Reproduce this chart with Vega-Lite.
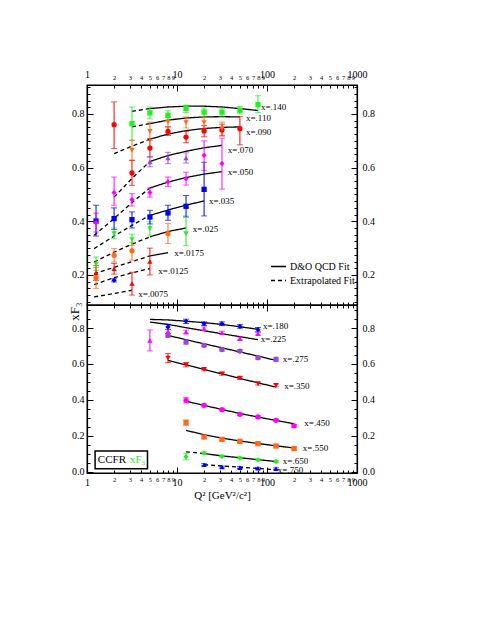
{
  "$schema": "https://vega.github.io/schema/vega-lite/v6.json",
  "background": "white",
  "padding": {"left": 67, "top": 68, "right": 5, "bottom": 5},
  "spacing": 0,
  "bounds": "flush",
  "config": {
    "font": "Liberation Serif",
    "view": {"stroke": "black", "strokeWidth": 1.3},
    "axis": {"domainColor": "black", "domainWidth": 1.2, "tickColor": "black", "tickWidth": 1, "labelColor": "black", "titleColor": "black", "labelFont": "Liberation Serif", "titleFont": "Liberation Serif", "titleFontWeight": "normal", "grid": false, "labelOverlap": false, "labelFlush": false, "labelBound": false},
    "legend": {"labelFont": "Liberation Serif", "titleFont": "Liberation Serif", "labelColor": "black", "titleColor": "black"}
  },
  "resolve": {"scale": {"x": "independent", "y": "independent", "color": "independent", "shape": "independent", "strokeDash": "independent"}},
  "datasets": {
    "fits": [
      {"p":"t","xb":".0075","s":"E","q":1.2,"v":0.118},{"p":"t","xb":".0075","s":"E","q":2,"v":0.131},{"p":"t","xb":".0075","s":"E","q":3.16,"v":0.143},
      {"p":"t","xb":".0125","s":"E","q":1.2,"v":0.164},{"p":"t","xb":".0125","s":"E","q":2,"v":0.19},{"p":"t","xb":".0125","s":"E","q":3.16,"v":0.208},{"p":"t","xb":".0125","s":"E","q":5,"v":0.224},
      {"p":"t","xb":".0175","s":"E","q":1.2,"v":0.205},{"p":"t","xb":".0175","s":"E","q":2,"v":0.228},{"p":"t","xb":".0175","s":"E","q":3.16,"v":0.25},{"p":"t","xb":".0175","s":"E","q":5,"v":0.271},
      {"p":"t","xb":".0175","s":"F","q":5,"v":0.271},{"p":"t","xb":".0175","s":"F","q":7.94,"v":0.283},
      {"p":"t","xb":".025","s":"E","q":1.2,"v":0.248},{"p":"t","xb":".025","s":"E","q":2,"v":0.285},{"p":"t","xb":".025","s":"E","q":3.16,"v":0.315},{"p":"t","xb":".025","s":"E","q":5,"v":0.342},
      {"p":"t","xb":".025","s":"F","q":5,"v":0.342},{"p":"t","xb":".025","s":"F","q":7.94,"v":0.362},{"p":"t","xb":".025","s":"F","q":12.6,"v":0.375},
      {"p":"t","xb":".035","s":"E","q":1.2,"v":0.298},{"p":"t","xb":".035","s":"E","q":2,"v":0.345},{"p":"t","xb":".035","s":"E","q":3.16,"v":0.385},{"p":"t","xb":".035","s":"E","q":5,"v":0.422},
      {"p":"t","xb":".035","s":"F","q":5,"v":0.422},{"p":"t","xb":".035","s":"F","q":7.94,"v":0.442},{"p":"t","xb":".035","s":"F","q":12.6,"v":0.46},{"p":"t","xb":".035","s":"F","q":20,"v":0.476},
      {"p":"t","xb":".050","s":"E","q":1.2,"v":0.348},{"p":"t","xb":".050","s":"E","q":2,"v":0.41},{"p":"t","xb":".050","s":"E","q":3.16,"v":0.47},{"p":"t","xb":".050","s":"E","q":5,"v":0.524},
      {"p":"t","xb":".050","s":"F","q":5,"v":0.524},{"p":"t","xb":".050","s":"F","q":7.94,"v":0.546},{"p":"t","xb":".050","s":"F","q":12.6,"v":0.563},{"p":"t","xb":".050","s":"F","q":20,"v":0.576},{"p":"t","xb":".050","s":"F","q":31.6,"v":0.585},
      {"p":"t","xb":".070","s":"E","q":2,"v":0.49},{"p":"t","xb":".070","s":"E","q":3.16,"v":0.56},{"p":"t","xb":".070","s":"E","q":5,"v":0.623},
      {"p":"t","xb":".070","s":"F","q":5,"v":0.623},{"p":"t","xb":".070","s":"F","q":7.94,"v":0.645},{"p":"t","xb":".070","s":"F","q":12.6,"v":0.661},{"p":"t","xb":".070","s":"F","q":20,"v":0.674},{"p":"t","xb":".070","s":"F","q":31.6,"v":0.683},
      {"p":"t","xb":".090","s":"E","q":2,"v":0.652},{"p":"t","xb":".090","s":"E","q":3.16,"v":0.68},{"p":"t","xb":".090","s":"E","q":5,"v":0.706},
      {"p":"t","xb":".090","s":"F","q":5,"v":0.706},{"p":"t","xb":".090","s":"F","q":7.94,"v":0.725},{"p":"t","xb":".090","s":"F","q":12.6,"v":0.738},{"p":"t","xb":".090","s":"F","q":20,"v":0.746},{"p":"t","xb":".090","s":"F","q":31.6,"v":0.75},{"p":"t","xb":".090","s":"F","q":50,"v":0.752},
      {"p":"t","xb":".110","s":"E","q":3.16,"v":0.752},{"p":"t","xb":".110","s":"E","q":5,"v":0.764},
      {"p":"t","xb":".110","s":"F","q":5,"v":0.764},{"p":"t","xb":".110","s":"F","q":7.94,"v":0.777},{"p":"t","xb":".110","s":"F","q":12.6,"v":0.785},{"p":"t","xb":".110","s":"F","q":20,"v":0.789},{"p":"t","xb":".110","s":"F","q":31.6,"v":0.79},{"p":"t","xb":".110","s":"F","q":50,"v":0.789},
      {"p":"t","xb":".140","s":"E","q":3.16,"v":0.81},{"p":"t","xb":".140","s":"E","q":5,"v":0.82},
      {"p":"t","xb":".140","s":"F","q":5,"v":0.82},{"p":"t","xb":".140","s":"F","q":7.94,"v":0.826},{"p":"t","xb":".140","s":"F","q":12.6,"v":0.829},{"p":"t","xb":".140","s":"F","q":20,"v":0.829},{"p":"t","xb":".140","s":"F","q":31.6,"v":0.826},{"p":"t","xb":".140","s":"F","q":50,"v":0.82},{"p":"t","xb":".140","s":"F","q":79.4,"v":0.813},
      {"p":"b","xb":".180","s":"F","q":5,"v":0.848},{"p":"b","xb":".180","s":"F","q":7.94,"v":0.845},{"p":"b","xb":".180","s":"F","q":12.6,"v":0.838},{"p":"b","xb":".180","s":"F","q":20,"v":0.83},{"p":"b","xb":".180","s":"F","q":31.6,"v":0.82},{"p":"b","xb":".180","s":"F","q":50,"v":0.807},{"p":"b","xb":".180","s":"F","q":79.4,"v":0.793},
      {"p":"b","xb":".225","s":"F","q":5,"v":0.833},{"p":"b","xb":".225","s":"F","q":7.94,"v":0.82},{"p":"b","xb":".225","s":"F","q":12.6,"v":0.802},{"p":"b","xb":".225","s":"F","q":20,"v":0.785},{"p":"b","xb":".225","s":"F","q":31.6,"v":0.768},{"p":"b","xb":".225","s":"F","q":50,"v":0.752},{"p":"b","xb":".225","s":"F","q":79.4,"v":0.735},
      {"p":"b","xb":".275","s":"F","q":7.94,"v":0.759},{"p":"b","xb":".275","s":"F","q":12.6,"v":0.735},{"p":"b","xb":".275","s":"F","q":20,"v":0.712},{"p":"b","xb":".275","s":"F","q":31.6,"v":0.69},{"p":"b","xb":".275","s":"F","q":50,"v":0.667},{"p":"b","xb":".275","s":"F","q":79.4,"v":0.644},{"p":"b","xb":".275","s":"F","q":126,"v":0.62},
      {"p":"b","xb":".350","s":"F","q":7.94,"v":0.62},{"p":"b","xb":".350","s":"F","q":12.6,"v":0.595},{"p":"b","xb":".350","s":"F","q":20,"v":0.57},{"p":"b","xb":".350","s":"F","q":31.6,"v":0.545},{"p":"b","xb":".350","s":"F","q":50,"v":0.52},{"p":"b","xb":".350","s":"F","q":79.4,"v":0.495},{"p":"b","xb":".350","s":"F","q":126,"v":0.472},
      {"p":"b","xb":".450","s":"F","q":12.6,"v":0.393},{"p":"b","xb":".450","s":"F","q":20,"v":0.37},{"p":"b","xb":".450","s":"F","q":31.6,"v":0.347},{"p":"b","xb":".450","s":"F","q":50,"v":0.325},{"p":"b","xb":".450","s":"F","q":79.4,"v":0.305},{"p":"b","xb":".450","s":"F","q":126,"v":0.286},{"p":"b","xb":".450","s":"F","q":200,"v":0.268},
      {"p":"b","xb":".550","s":"F","q":12.6,"v":0.231},{"p":"b","xb":".550","s":"F","q":20,"v":0.207},{"p":"b","xb":".550","s":"F","q":31.6,"v":0.188},{"p":"b","xb":".550","s":"F","q":50,"v":0.172},{"p":"b","xb":".550","s":"F","q":79.4,"v":0.158},{"p":"b","xb":".550","s":"F","q":126,"v":0.145},{"p":"b","xb":".550","s":"F","q":200,"v":0.133},
      {"p":"b","xb":".650","s":"E","q":12.6,"v":0.112},{"p":"b","xb":".650","s":"E","q":20,"v":0.102},
      {"p":"b","xb":".650","s":"F","q":20,"v":0.102},{"p":"b","xb":".650","s":"F","q":31.6,"v":0.089},{"p":"b","xb":".650","s":"F","q":50,"v":0.079},{"p":"b","xb":".650","s":"F","q":79.4,"v":0.068},{"p":"b","xb":".650","s":"F","q":126,"v":0.058},
      {"p":"b","xb":".750","s":"E","q":20,"v":0.04},{"p":"b","xb":".750","s":"E","q":31.6,"v":0.033},{"p":"b","xb":".750","s":"E","q":50,"v":0.026},{"p":"b","xb":".750","s":"E","q":79.4,"v":0.019},{"p":"b","xb":".750","s":"E","q":126,"v":0.013}
    ],
    "pts": [
      {"p":"t","xb":".0075","q":2,"v":0.18,"lo":0.174,"hi":0.186},
      {"p":"t","xb":".0125","q":1.26,"v":0.207,"lo":0.18,"hi":0.235},{"p":"t","xb":".0125","q":2,"v":0.223,"lo":0.203,"hi":0.243},{"p":"t","xb":".0125","q":3.16,"v":0.168,"lo":0.125,"hi":0.21},{"p":"t","xb":".0125","q":5,"v":0.25,"lo":0.2,"hi":0.3},
      {"p":"t","xb":".0175","q":1.26,"v":0.19,"lo":0.15,"hi":0.228},{"p":"t","xb":".0175","q":2,"v":0.273,"lo":0.248,"hi":0.298},{"p":"t","xb":".0175","q":3.16,"v":0.29,"lo":0.255,"hi":0.322},{"p":"t","xb":".0175","q":7.94,"v":0.354,"lo":0.317,"hi":0.392},
      {"p":"t","xb":".025","q":1.26,"v":0.24,"lo":0.217,"hi":0.267},{"p":"t","xb":".025","q":2,"v":0.354,"lo":0.335,"hi":0.375},{"p":"t","xb":".025","q":3.16,"v":0.332,"lo":0.31,"hi":0.352},{"p":"t","xb":".025","q":5,"v":0.373,"lo":0.348,"hi":0.398},{"p":"t","xb":".025","q":12.6,"v":0.354,"lo":0.31,"hi":0.42},
      {"p":"t","xb":".035","q":1.26,"v":0.401,"lo":0.345,"hi":0.46},{"p":"t","xb":".035","q":2,"v":0.41,"lo":0.37,"hi":0.45},{"p":"t","xb":".035","q":3.16,"v":0.406,"lo":0.375,"hi":0.435},{"p":"t","xb":".035","q":5,"v":0.416,"lo":0.39,"hi":0.441},{"p":"t","xb":".035","q":7.94,"v":0.431,"lo":0.404,"hi":0.46},{"p":"t","xb":".035","q":12.6,"v":0.456,"lo":0.416,"hi":0.496},{"p":"t","xb":".035","q":20,"v":0.519,"lo":0.42,"hi":0.62},
      {"p":"t","xb":".050","q":1.26,"v":0.395,"lo":0.36,"hi":0.43},{"p":"t","xb":".050","q":2,"v":0.507,"lo":0.46,"hi":0.565},{"p":"t","xb":".050","q":3.16,"v":0.481,"lo":0.457,"hi":0.503},{"p":"t","xb":".050","q":5,"v":0.507,"lo":0.49,"hi":0.524},{"p":"t","xb":".050","q":7.94,"v":0.547,"lo":0.53,"hi":0.565},{"p":"t","xb":".050","q":12.6,"v":0.559,"lo":0.535,"hi":0.583},{"p":"t","xb":".050","q":20,"v":0.646,"lo":0.59,"hi":0.7},{"p":"t","xb":".050","q":31.6,"v":0.615,"lo":0.52,"hi":0.71},
      {"p":"t","xb":".070","q":5,"v":0.621,"lo":0.603,"hi":0.64},{"p":"t","xb":".070","q":7.94,"v":0.636,"lo":0.615,"hi":0.657},{"p":"t","xb":".070","q":12.6,"v":0.636,"lo":0.617,"hi":0.655},
      {"p":"t","xb":".090","q":2,"v":0.76,"lo":0.671,"hi":0.845},{"p":"t","xb":".090","q":3.16,"v":0.58,"lo":0.534,"hi":0.627},{"p":"t","xb":".090","q":5,"v":0.673,"lo":0.64,"hi":0.708},{"p":"t","xb":".090","q":7.94,"v":0.735,"lo":0.72,"hi":0.752},{"p":"t","xb":".090","q":12.6,"v":0.714,"lo":0.693,"hi":0.735},{"p":"t","xb":".090","q":20,"v":0.737,"lo":0.715,"hi":0.757},{"p":"t","xb":".090","q":31.6,"v":0.74,"lo":0.718,"hi":0.762},{"p":"t","xb":".090","q":50,"v":0.745,"lo":0.685,"hi":0.79},
      {"p":"t","xb":".110","q":3.16,"v":0.665,"lo":0.628,"hi":0.702},{"p":"t","xb":".110","q":5,"v":0.735,"lo":0.702,"hi":0.77},{"p":"t","xb":".110","q":7.94,"v":0.77,"lo":0.752,"hi":0.789},{"p":"t","xb":".110","q":12.6,"v":0.768,"lo":0.748,"hi":0.789},{"p":"t","xb":".110","q":20,"v":0.768,"lo":0.745,"hi":0.789},{"p":"t","xb":".110","q":31.6,"v":0.745,"lo":0.72,"hi":0.77},
      {"p":"t","xb":".140","q":3.16,"v":0.764,"lo":0.702,"hi":0.826},{"p":"t","xb":".140","q":5,"v":0.804,"lo":0.782,"hi":0.826},{"p":"t","xb":".140","q":7.94,"v":0.795,"lo":0.777,"hi":0.812},{"p":"t","xb":".140","q":12.6,"v":0.82,"lo":0.805,"hi":0.833},{"p":"t","xb":".140","q":20,"v":0.807,"lo":0.792,"hi":0.822},{"p":"t","xb":".140","q":31.6,"v":0.807,"lo":0.792,"hi":0.822},{"p":"t","xb":".140","q":50,"v":0.814,"lo":0.8,"hi":0.828},{"p":"t","xb":".140","q":79.4,"v":0.835,"lo":0.805,"hi":0.868},
      {"p":"b","xb":".180","q":7.94,"v":0.806,"lo":0.791,"hi":0.821},{"p":"b","xb":".180","q":12.6,"v":0.837,"lo":0.825,"hi":0.849},{"p":"b","xb":".180","q":20,"v":0.824,"lo":0.814,"hi":0.834},{"p":"b","xb":".180","q":31.6,"v":0.824,"lo":0.814,"hi":0.834},{"p":"b","xb":".180","q":50,"v":0.809,"lo":0.799,"hi":0.819},{"p":"b","xb":".180","q":79.4,"v":0.791,"lo":0.779,"hi":0.803},
      {"p":"b","xb":".225","q":5,"v":0.731,"lo":0.673,"hi":0.789},{"p":"b","xb":".225","q":7.94,"v":0.781,"lo":0.769,"hi":0.793},{"p":"b","xb":".225","q":12.6,"v":0.778,"lo":0.768,"hi":0.788},{"p":"b","xb":".225","q":20,"v":0.796,"lo":0.786,"hi":0.806},{"p":"b","xb":".225","q":31.6,"v":0.774,"lo":0.766,"hi":0.782},{"p":"b","xb":".225","q":50,"v":0.741,"lo":0.733,"hi":0.749},{"p":"b","xb":".225","q":79.4,"v":0.769,"lo":0.761,"hi":0.777},
      {"p":"b","xb":".275","q":7.94,"v":0.759,"lo":0.749,"hi":0.769},{"p":"b","xb":".275","q":12.6,"v":0.722,"lo":0.71,"hi":0.734},{"p":"b","xb":".275","q":20,"v":0.704,"lo":0.696,"hi":0.712},{"p":"b","xb":".275","q":31.6,"v":0.68,"lo":0.672,"hi":0.688},{"p":"b","xb":".275","q":50,"v":0.672,"lo":0.664,"hi":0.68},{"p":"b","xb":".275","q":79.4,"v":0.635,"lo":0.627,"hi":0.643},{"p":"b","xb":".275","q":126,"v":0.626,"lo":0.614,"hi":0.638},
      {"p":"b","xb":".350","q":7.94,"v":0.633,"lo":0.608,"hi":0.658},{"p":"b","xb":".350","q":12.6,"v":0.596,"lo":0.584,"hi":0.608},{"p":"b","xb":".350","q":20,"v":0.57,"lo":0.562,"hi":0.578},{"p":"b","xb":".350","q":31.6,"v":0.546,"lo":0.538,"hi":0.554},{"p":"b","xb":".350","q":50,"v":0.522,"lo":0.514,"hi":0.53},{"p":"b","xb":".350","q":79.4,"v":0.491,"lo":0.483,"hi":0.499},{"p":"b","xb":".350","q":126,"v":0.481,"lo":0.473,"hi":0.489},
      {"p":"b","xb":".450","q":12.6,"v":0.398,"lo":0.383,"hi":0.413},{"p":"b","xb":".450","q":20,"v":0.37,"lo":0.362,"hi":0.378},{"p":"b","xb":".450","q":31.6,"v":0.346,"lo":0.34,"hi":0.352},{"p":"b","xb":".450","q":50,"v":0.32,"lo":0.314,"hi":0.326},{"p":"b","xb":".450","q":79.4,"v":0.306,"lo":0.3,"hi":0.312},{"p":"b","xb":".450","q":126,"v":0.287,"lo":0.281,"hi":0.293},{"p":"b","xb":".450","q":200,"v":0.256,"lo":0.248,"hi":0.264},
      {"p":"b","xb":".550","q":12.6,"v":0.274,"lo":0.259,"hi":0.289},{"p":"b","xb":".550","q":20,"v":0.194,"lo":0.188,"hi":0.2},{"p":"b","xb":".550","q":31.6,"v":0.181,"lo":0.175,"hi":0.187},{"p":"b","xb":".550","q":50,"v":0.17,"lo":0.164,"hi":0.176},{"p":"b","xb":".550","q":79.4,"v":0.157,"lo":0.151,"hi":0.163},{"p":"b","xb":".550","q":126,"v":0.144,"lo":0.138,"hi":0.15},{"p":"b","xb":".550","q":200,"v":0.13,"lo":0.124,"hi":0.136},
      {"p":"b","xb":".650","q":12.6,"v":0.085,"lo":0.067,"hi":0.103},{"p":"b","xb":".650","q":20,"v":0.105,"lo":0.099,"hi":0.111},{"p":"b","xb":".650","q":31.6,"v":0.087,"lo":0.082,"hi":0.092},{"p":"b","xb":".650","q":50,"v":0.078,"lo":0.073,"hi":0.083},{"p":"b","xb":".650","q":79.4,"v":0.067,"lo":0.062,"hi":0.072},{"p":"b","xb":".650","q":126,"v":0.058,"lo":0.053,"hi":0.063},
      {"p":"b","xb":".750","q":20,"v":0.04,"lo":0.034,"hi":0.046},{"p":"b","xb":".750","q":31.6,"v":0.027,"lo":0.022,"hi":0.032},{"p":"b","xb":".750","q":50,"v":0.024,"lo":0.019,"hi":0.029},{"p":"b","xb":".750","q":79.4,"v":0.02,"lo":0.015,"hi":0.025},{"p":"b","xb":".750","q":126,"v":0.018,"lo":0.013,"hi":0.023}
    ],
    "labs": [
      {"p":"t","q":3.7,"v":0.13,"t":"x=.0075"},{"p":"t","q":6.2,"v":0.215,"t":"x=.0125"},{"p":"t","q":9.3,"v":0.283,"t":"x=.0175"},{"p":"t","q":15,"v":0.372,"t":"x=.025"},{"p":"t","q":22.7,"v":0.476,"t":"x=.035"},{"p":"t","q":36.7,"v":0.582,"t":"x=.050"},{"p":"t","q":36.7,"v":0.667,"t":"x=.070"},{"p":"t","q":58.5,"v":0.733,"t":"x=.090"},{"p":"t","q":58.5,"v":0.784,"t":"x=.110"},{"p":"t","q":85.6,"v":0.826,"t":"x=.140"},
      {"p":"b","q":90,"v":0.811,"t":"x=.180"},{"p":"b","q":85,"v":0.737,"t":"x=.225"},{"p":"b","q":150,"v":0.626,"t":"x=.275"},{"p":"b","q":155,"v":0.48,"t":"x=.350"},{"p":"b","q":260,"v":0.27,"t":"x=.450"},{"p":"b","q":250,"v":0.133,"t":"x=.550"},{"p":"b","q":150,"v":0.06,"t":"x=.650"},{"p":"b","q":132,"v":0.01,"t":"x=.750"}
    ],
    "box": [{"q1":1.23,"q2":4.7,"v1":0.017,"v2":0.117}],
    "boxtext": [{"q":1.32,"v":0.067,"t":"CCFR"},{"q":3.0,"v":0.067,"t":"xF₃"}]
  },
  "vconcat": [
    {
      "width": 270,
      "height": 220,
      "resolve": {"axis": {"x": "independent", "y": "independent"}},
      "layer": [
        {
          "data": {"name": "fits"},
          "transform": [{"filter": "datum.p == 't'"}],
          "mark": {"type": "line", "color": "black", "strokeWidth": 1.3},
          "encoding": {
            "x": {"field": "q", "type": "quantitative", "scale": {"type": "log", "domain": [1, 1000]},
              "axis": {"orient": "top", "title": null, "values": [1,2,3,4,5,6,7,8,9,10,20,30,40,50,60,70,80,90,100,200,300,400,500,600,700,800,900,1000],
                "labelExpr": "format(round(datum.value / pow(10, floor(log(datum.value) / LN10 + 0.000001))) * ((datum.value == 1 || datum.value == 10 || datum.value == 100 || datum.value == 1000) ? datum.value : 1), 'd')",
                "labelFontSize": {"condition": {"test": "datum.value == 1 || datum.value == 10 || datum.value == 100 || datum.value == 1000", "value": 10}, "value": 6.5},
                "tickSize": {"condition": {"test": "datum.value == 1 || datum.value == 10 || datum.value == 100 || datum.value == 1000", "value": -6}, "value": -3},
                "labelPadding": {"condition": {"test": "datum.value == 1 || datum.value == 10 || datum.value == 100 || datum.value == 1000", "value": 12}, "value": 8}}},
            "y": {"field": "v", "type": "quantitative", "scale": {"domain": [0.088, 0.908]},
              "axis": {"orient": "left", "title": null, "values": [0.1,0.125,0.15,0.175,0.2,0.225,0.25,0.275,0.3,0.325,0.35,0.375,0.4,0.425,0.45,0.475,0.5,0.525,0.55,0.575,0.6,0.625,0.65,0.675,0.7,0.725,0.75,0.775,0.8,0.825,0.85,0.875,0.9],
                "labelExpr": "abs(datum.value*5 - round(datum.value*5)) < 0.001 ? format(datum.value, '.1f') : ''",
                "labelFontSize": 10,
                "tickSize": {"condition": {"test": "abs(datum.value*5 - round(datum.value*5)) < 0.001", "value": -6}, "value": -3},
                "labelPadding": 9}},
            "strokeDash": {"field": "s", "type": "nominal", "scale": {"domain": ["F", "E"], "range": [[1, 0], [4, 3]]},
              "legend": {"title": null, "orient": "none", "legendX": 183, "legendY": 173, "symbolType": "stroke", "symbolStrokeColor": "black", "symbolSize": 225, "symbolStrokeWidth": 1.3, "labelFontSize": 10, "rowPadding": -4, "labelOffset": 3,
                "labelExpr": "datum.label == 'F' ? 'D&O QCD Fit' : 'Extrapolated Fit'"}},
            "detail": {"field": "xb"}
          }
        },
        {
          "data": {"name": "pts"},
          "transform": [{"filter": "datum.p == 't'"}],
          "mark": {"type": "errorbar", "ticks": true, "size": 6, "thickness": 1},
          "encoding": {
            "x": {"field": "q", "type": "quantitative", "scale": {"type": "log", "domain": [1, 1000]},
              "axis": {"orient": "bottom", "title": null, "labels": false, "values": [1,2,3,4,5,6,7,8,9,10,20,30,40,50,60,70,80,90,100,200,300,400,500,600,700,800,900,1000],
                "tickSize": {"condition": {"test": "datum.value == 1 || datum.value == 10 || datum.value == 100 || datum.value == 1000", "value": -6}, "value": -3}}},
            "y": {"field": "lo", "type": "quantitative", "scale": {"domain": [0.088, 0.908]},
              "axis": {"orient": "right", "title": null, "values": [0.1,0.125,0.15,0.175,0.2,0.225,0.25,0.275,0.3,0.325,0.35,0.375,0.4,0.425,0.45,0.475,0.5,0.525,0.55,0.575,0.6,0.625,0.65,0.675,0.7,0.725,0.75,0.775,0.8,0.825,0.85,0.875,0.9],
                "labelExpr": "abs(datum.value*5 - round(datum.value*5)) < 0.001 ? format(datum.value, '.1f') : ''",
                "labelFontSize": 10,
                "tickSize": {"condition": {"test": "abs(datum.value*5 - round(datum.value*5)) < 0.001", "value": -6}, "value": -3},
                "labelPadding": 11}},
            "y2": {"field": "hi"},
            "color": {"field": "xb", "type": "nominal", "legend": null,
              "scale": {"domain": [".0075",".140",".0125",".180",".0175",".225",".025",".275",".035",".350",".050",".450",".070",".550",".090",".650",".110",".750"],
                "range": ["#0000ff","#22ee22","#ff0000","#0000ff","#ff6a1a","#ff00ff","#22ee22","#9a45e0","#0000ff","#ff0000","#ff00ff","#ff00ff","#9a45e0","#ff6a1a","#ff0000","#22ee22","#ff6a1a","#0000ff"]}}
          }
        },
        {
          "data": {"name": "pts"},
          "transform": [{"filter": "datum.p == 't'"}],
          "mark": {"type": "point", "filled": true, "size": 28, "opacity": 1},
          "encoding": {
            "x": {"field": "q", "type": "quantitative", "scale": {"type": "log", "domain": [1, 1000]}, "axis": null},
            "y": {"field": "v", "type": "quantitative", "scale": {"domain": [0.088, 0.908]}, "axis": null},
            "color": {"field": "xb", "type": "nominal",
              "scale": {"domain": [".0075",".140",".0125",".180",".0175",".225",".025",".275",".035",".350",".050",".450",".070",".550",".090",".650",".110",".750"],
                "range": ["#0000ff","#22ee22","#ff0000","#0000ff","#ff6a1a","#ff00ff","#22ee22","#9a45e0","#0000ff","#ff0000","#ff00ff","#ff00ff","#9a45e0","#ff6a1a","#ff0000","#22ee22","#ff6a1a","#0000ff"]},
              "legend": {"title": "x-bins", "orient": "none", "legendX": 186, "legendY": 66, "columns": 2, "columnPadding": 12, "rowPadding": 1.5, "symbolSize": 25, "symbolStrokeWidth": 0, "labelFontSize": 9, "labelOffset": 5, "titleFontSize": 10, "titleFontWeight": "normal", "titleAnchor": "middle", "titlePadding": 2}},
            "shape": {"field": "xb", "type": "nominal",
              "scale": {"domain": [".0075",".140",".0125",".180",".0175",".225",".025",".275",".035",".350",".050",".450",".070",".550",".090",".650",".110",".750"],
                "range": ["diamond","square","triangle-up","diamond","circle","triangle-up","triangle-down","circle","square","triangle-down","diamond","circle","triangle-up","square","circle","diamond","triangle-down","triangle-up"]},
              "legend": {"title": "x-bins", "orient": "none", "legendX": 186, "legendY": 66, "columns": 2, "columnPadding": 12, "rowPadding": 1.5, "symbolSize": 25, "symbolStrokeWidth": 0, "labelFontSize": 9, "labelOffset": 5, "titleFontSize": 10, "titleFontWeight": "normal", "titleAnchor": "middle", "titlePadding": 2}}
          }
        },
        {
          "data": {"name": "labs"},
          "transform": [{"filter": "datum.p == 't'"}],
          "mark": {"type": "text", "align": "left", "baseline": "middle", "fontSize": 9, "color": "black", "font": "Liberation Serif"},
          "encoding": {
            "x": {"field": "q", "type": "quantitative", "scale": {"type": "log", "domain": [1, 1000]}, "axis": null},
            "y": {"field": "v", "type": "quantitative", "scale": {"domain": [0.088, 0.908]}, "axis": null},
            "text": {"field": "t"}
          }
        }
      ]
    },
    {
      "width": 270,
      "height": 168,
      "resolve": {"axis": {"x": "independent", "y": "independent"}},
      "layer": [
        {
          "data": {"name": "fits"},
          "transform": [{"filter": "datum.p == 'b'"}],
          "mark": {"type": "line", "color": "black", "strokeWidth": 1.3},
          "encoding": {
            "x": {"field": "q", "type": "quantitative", "scale": {"type": "log", "domain": [1, 1000]},
              "axis": {"orient": "bottom", "title": "Q² [GeV²/c²]", "titleFontSize": 11, "titlePadding": 2, "values": [1,2,3,4,5,6,7,8,9,10,20,30,40,50,60,70,80,90,100,200,300,400,500,600,700,800,900,1000],
                "labelExpr": "format(round(datum.value / pow(10, floor(log(datum.value) / LN10 + 0.000001))) * ((datum.value == 1 || datum.value == 10 || datum.value == 100 || datum.value == 1000) ? datum.value : 1), 'd')",
                "labelBaseline": "top",
                "labelFontSize": {"condition": {"test": "datum.value == 1 || datum.value == 10 || datum.value == 100 || datum.value == 1000", "value": 10}, "value": 6.5},
                "tickSize": {"condition": {"test": "datum.value == 1 || datum.value == 10 || datum.value == 100 || datum.value == 1000", "value": -6}, "value": -3},
                "labelPadding": {"condition": {"test": "datum.value == 1 || datum.value == 10 || datum.value == 100 || datum.value == 1000", "value": 10}, "value": 6}}},
            "y": {"field": "v", "type": "quantitative", "scale": {"domain": [-0.006, 0.928]},
              "axis": {"orient": "left", "title": "xF₃", "titleFontSize": 13, "titleX": -13, "titleY": -3, "titleAlign": "right", "titleBaseline": "middle", "titleAngle": 270,
                "values": [0,0.05,0.1,0.15,0.2,0.25,0.3,0.35,0.4,0.45,0.5,0.55,0.6,0.65,0.7,0.75,0.8,0.85,0.9],
                "labelExpr": "abs(datum.value*5 - round(datum.value*5)) < 0.001 ? format(datum.value, '.1f') : ''",
                "labelFontSize": 10,
                "tickSize": {"condition": {"test": "abs(datum.value*5 - round(datum.value*5)) < 0.001", "value": -6}, "value": -3},
                "labelPadding": 9}},
            "strokeDash": {"field": "s", "type": "nominal", "scale": {"domain": ["F", "E"], "range": [[1, 0], [4, 3]]}, "legend": null},
            "detail": {"field": "xb"}
          }
        },
        {
          "data": {"name": "pts"},
          "transform": [{"filter": "datum.p == 'b'"}],
          "mark": {"type": "errorbar", "ticks": true, "size": 6, "thickness": 1},
          "encoding": {
            "x": {"field": "q", "type": "quantitative", "scale": {"type": "log", "domain": [1, 1000]},
              "axis": {"orient": "top", "title": null, "labels": false, "values": [1,2,3,4,5,6,7,8,9,10,20,30,40,50,60,70,80,90,100,200,300,400,500,600,700,800,900,1000],
                "tickSize": {"condition": {"test": "datum.value == 1 || datum.value == 10 || datum.value == 100 || datum.value == 1000", "value": -6}, "value": -3}}},
            "y": {"field": "lo", "type": "quantitative", "scale": {"domain": [-0.006, 0.928]},
              "axis": {"orient": "right", "title": null, "values": [0,0.05,0.1,0.15,0.2,0.25,0.3,0.35,0.4,0.45,0.5,0.55,0.6,0.65,0.7,0.75,0.8,0.85,0.9],
                "labelExpr": "abs(datum.value*5 - round(datum.value*5)) < 0.001 ? format(datum.value, '.1f') : ''",
                "labelFontSize": 10,
                "tickSize": {"condition": {"test": "abs(datum.value*5 - round(datum.value*5)) < 0.001", "value": -6}, "value": -3},
                "labelPadding": 11}},
            "y2": {"field": "hi"},
            "color": {"field": "xb", "type": "nominal", "legend": null,
              "scale": {"domain": [".0075",".140",".0125",".180",".0175",".225",".025",".275",".035",".350",".050",".450",".070",".550",".090",".650",".110",".750"],
                "range": ["#0000ff","#22ee22","#ff0000","#0000ff","#ff6a1a","#ff00ff","#22ee22","#9a45e0","#0000ff","#ff0000","#ff00ff","#ff00ff","#9a45e0","#ff6a1a","#ff0000","#22ee22","#ff6a1a","#0000ff"]}}
          }
        },
        {
          "data": {"name": "pts"},
          "transform": [{"filter": "datum.p == 'b'"}],
          "mark": {"type": "point", "filled": true, "size": 28, "opacity": 1},
          "encoding": {
            "x": {"field": "q", "type": "quantitative", "scale": {"type": "log", "domain": [1, 1000]}, "axis": null},
            "y": {"field": "v", "type": "quantitative", "scale": {"domain": [-0.006, 0.928]}, "axis": null},
            "color": {"field": "xb", "type": "nominal", "legend": null,
              "scale": {"domain": [".0075",".140",".0125",".180",".0175",".225",".025",".275",".035",".350",".050",".450",".070",".550",".090",".650",".110",".750"],
                "range": ["#0000ff","#22ee22","#ff0000","#0000ff","#ff6a1a","#ff00ff","#22ee22","#9a45e0","#0000ff","#ff0000","#ff00ff","#ff00ff","#9a45e0","#ff6a1a","#ff0000","#22ee22","#ff6a1a","#0000ff"]}},
            "shape": {"field": "xb", "type": "nominal", "legend": null,
              "scale": {"domain": [".0075",".140",".0125",".180",".0175",".225",".025",".275",".035",".350",".050",".450",".070",".550",".090",".650",".110",".750"],
                "range": ["diamond","square","triangle-up","diamond","circle","triangle-up","triangle-down","circle","square","triangle-down","diamond","circle","triangle-up","square","circle","diamond","triangle-down","triangle-up"]}}
          }
        },
        {
          "data": {"name": "labs"},
          "transform": [{"filter": "datum.p == 'b'"}],
          "mark": {"type": "text", "align": "left", "baseline": "middle", "fontSize": 9, "color": "black", "font": "Liberation Serif"},
          "encoding": {
            "x": {"field": "q", "type": "quantitative", "scale": {"type": "log", "domain": [1, 1000]}, "axis": null},
            "y": {"field": "v", "type": "quantitative", "scale": {"domain": [-0.006, 0.928]}, "axis": null},
            "text": {"field": "t"}
          }
        },
        {
          "data": {"name": "box"},
          "mark": {"type": "rect", "fill": null, "fillOpacity": 0, "stroke": "black", "strokeWidth": 1.5},
          "encoding": {
            "x": {"field": "q1", "type": "quantitative", "scale": {"type": "log", "domain": [1, 1000]}, "axis": null},
            "x2": {"field": "q2"},
            "y": {"field": "v1", "type": "quantitative", "scale": {"domain": [-0.006, 0.928]}, "axis": null},
            "y2": {"field": "v2"}
          }
        },
        {
          "data": {"name": "boxtext"},
          "transform": [{"filter": "datum.t == 'CCFR'"}],
          "mark": {"type": "text", "align": "left", "baseline": "middle", "fontSize": 11, "color": "black", "font": "Liberation Serif"},
          "encoding": {
            "x": {"field": "q", "type": "quantitative", "scale": {"type": "log", "domain": [1, 1000]}, "axis": null},
            "y": {"field": "v", "type": "quantitative", "scale": {"domain": [-0.006, 0.928]}, "axis": null},
            "text": {"field": "t"}
          }
        },
        {
          "data": {"name": "boxtext"},
          "transform": [{"filter": "datum.t != 'CCFR'"}],
          "mark": {"type": "text", "align": "left", "baseline": "middle", "fontSize": 11, "color": "#33dd33", "font": "Liberation Serif"},
          "encoding": {
            "x": {"field": "q", "type": "quantitative", "scale": {"type": "log", "domain": [1, 1000]}, "axis": null},
            "y": {"field": "v", "type": "quantitative", "scale": {"domain": [-0.006, 0.928]}, "axis": null},
            "text": {"field": "t"}
          }
        }
      ]
    }
  ]
}
